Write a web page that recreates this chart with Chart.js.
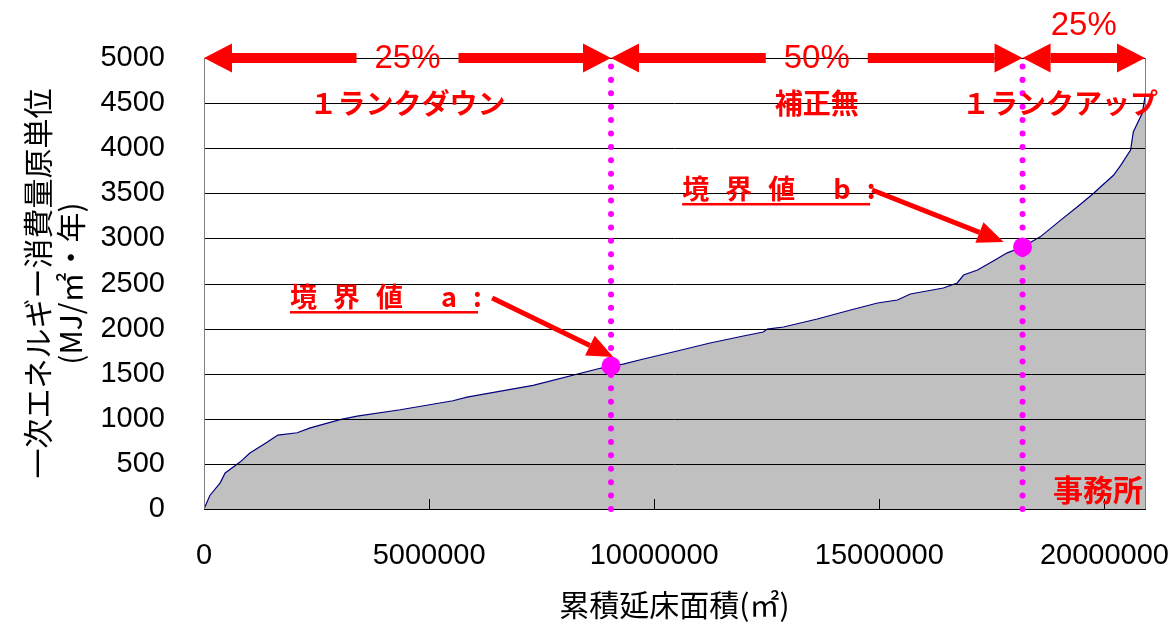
<!DOCTYPE html>
<html>
<head>
<meta charset="utf-8">
<script src="https://cdn.jsdelivr.net/npm/chart.js@4.4.1/dist/chart.umd.min.js"></script>
<style>
  html, body { margin: 0; padding: 0; background: #fff; }
</style>
</head>
<body>
<canvas id="energyChart" width="1169" height="622"></canvas>
<script>
// cumulative floor area (m2) vs primary energy intensity (MJ/m2/yr)
const floorArea = [
  0, 130000, 360000, 470000, 800000, 1020000, 1400000, 1640000, 2070000, 2360000,
  3020000, 3400000, 4360000, 5530000, 5840000, 7310000, 8800000, 9040000, 9310000, 9760000,
  10510000, 11240000, 11980000, 12420000, 12510000, 12870000, 13620000, 14360000, 14960000, 15400000,
  15690000, 16420000, 16730000, 16870000, 17180000, 17530000, 17840000, 18180000, 18580000, 19020000,
  19400000, 19760000, 19910000, 20200000, 20360000, 20580000, 20640000, 20840000, 20910000
];
const energyUnit = [
  0, 150, 290, 400, 520, 620, 740, 820, 845, 900,
  990, 1030, 1100, 1200, 1240, 1370, 1560, 1585, 1607, 1663,
  1752, 1840, 1918, 1962, 1995, 2018, 2106, 2206, 2284, 2317,
  2384, 2450, 2506, 2594, 2650, 2750, 2840, 2905, 3020, 3200,
  3350, 3500, 3570, 3700, 3810, 3980, 4180, 4390, 4600
];

const xTicks = [0, 5000000, 10000000, 15000000, 20000000];
const yTicks = [0, 500, 1000, 1500, 2000, 2500, 3000, 3500, 4000, 4500, 5000];

// boundary values a / b
const boundaryX = [9040000, 18180000];
const boundaryY = [1585, 2905];

const shareLabels = ['25%', '50%', '25%'];
const rankLabels = ['１ランクダウン', '補正無', '１ランクアップ'];
const boundaryLabels = ['境界値 a:', '境界値 b:'];
const buildingType = '事務所';

// annotation anchors in data units: label start, arrow start, arrow tip
const noteLabelAt = [[1910000, 2350], [10620000, 3548]];
const noteArrowFrom = [[6400000, 2340], [14840000, 3537]];
const noteArrowTo = [[9090000, 1685], [17760000, 2960]];

const X_MAX = 20900000;
const Y_MAX = 5000;

const RED = '#ff0000';
const MAGENTA = '#ff00ff';
const JP = "'Noto Sans CJK JP', sans-serif";
const NUM = "'Liberation Sans', Arial, sans-serif";

function line(ctx, x1, y1, x2, y2) {
  ctx.beginPath();
  ctx.moveTo(x1, y1);
  ctx.lineTo(x2, y2);
  ctx.stroke();
}

function tri(ctx, ax, ay, bx, by, cx, cy) {
  ctx.beginPath();
  ctx.moveTo(ax, ay);
  ctx.lineTo(bx, by);
  ctx.lineTo(cx, cy);
  ctx.closePath();
  ctx.fill();
}

function doubleArrow(ctx, x1, x2, y, gapMid) {
  const head = 28, half = 14.5, th = 10, gapHalf = 51;
  ctx.fillStyle = RED;
  if (gapMid != null) {
    ctx.fillRect(x1 + head, y - th / 2, gapMid - gapHalf - x1 - head, th);
    ctx.fillRect(gapMid + gapHalf, y - th / 2, x2 - head - gapMid - gapHalf, th);
  } else {
    ctx.fillRect(x1 + head, y - th / 2, x2 - x1 - 2 * head, th);
  }
  tri(ctx, x1, y, x1 + head, y - half, x1 + head, y + half);
  tri(ctx, x2, y, x2 - head, y - half, x2 - head, y + half);
}

function arrow(ctx, x1, y1, x2, y2) {
  const head = 26, half = 11;
  const ang = Math.atan2(y2 - y1, x2 - x1);
  const bx = x2 - head * Math.cos(ang), by = y2 - head * Math.sin(ang);
  ctx.strokeStyle = RED;
  ctx.fillStyle = RED;
  ctx.lineWidth = 5;
  line(ctx, x1, y1, bx, by);
  tri(ctx, x2, y2,
    bx + half * Math.sin(ang), by - half * Math.cos(ang),
    bx - half * Math.sin(ang), by + half * Math.cos(ang));
}

// spaced-out label with underline, like the original callouts
function spacedLabel(ctx, text, x, y) {
  ctx.font = `bold 27px ${JP}`;
  ctx.fillStyle = RED;
  ctx.textAlign = 'left';
  ctx.textBaseline = 'middle';
  let cx = x;
  for (const ch of text) {
    ctx.fillText(ch, cx, y);
    cx += ctx.measureText(ch).width + 16;
  }
  ctx.fillRect(x, y + 14, 188, 2.5);
}

const overlay = {
  id: 'overlay',
  afterDatasetDraw(chart, args) {
    if (args.index !== 3) return;
    const { ctx, chartArea: a, scales: { x, y } } = chart;
    ctx.save();
    ctx.strokeStyle = '#000';
    ctx.lineWidth = 1;
    y.ticks.forEach(t => {
      const py = Math.round(y.getPixelForValue(t.value)) + 0.5;
      line(ctx, a.left, py, a.right, py);
    });
    x.ticks.forEach(t => {
      if (t.value === 0) return;
      const px = Math.round(x.getPixelForValue(t.value)) + 0.5;
      line(ctx, px, a.bottom, px, a.bottom - 10);
    });
    ctx.strokeStyle = '#808080';
    line(ctx, Math.round(a.right) + 0.5, a.top, Math.round(a.right) + 0.5, a.bottom);
    line(ctx, Math.round(a.left) + 0.5, a.top, Math.round(a.left) + 0.5, a.bottom);
    ctx.restore();
  },
  afterDraw(chart) {
    const { ctx, chartArea: a, scales: { x, y } } = chart;
    ctx.save();
    const topY = y.getPixelForValue(Y_MAX);
    const xs = [0, boundaryX[0], boundaryX[1], X_MAX].map(v => x.getPixelForValue(v));

    // top share arrows
    for (let i = 0; i < 3; i++) {
      const mid = (xs[i] + xs[i + 1]) / 2;
      doubleArrow(ctx, xs[i], xs[i + 1], topY, i < 2 ? mid : null);
      ctx.font = `33px ${NUM}`;
      ctx.fillStyle = RED;
      ctx.textAlign = 'center';
      ctx.textBaseline = 'middle';
      ctx.fillText(shareLabels[i], mid, i < 2 ? topY + 1 : topY - 32);
    }

    // rank labels on the 4500 line
    const rankY = y.getPixelForValue(4500);
    ctx.font = `bold 28px ${JP}`;
    ctx.fillStyle = RED;
    ctx.textBaseline = 'middle';
    ctx.textAlign = 'center';
    ctx.fillText(rankLabels[0], (xs[0] + xs[1]) / 2, rankY);
    ctx.fillText(rankLabels[1], (xs[1] + xs[2]) / 2, rankY);
    ctx.textAlign = 'right';
    ctx.fillText(rankLabels[2], a.right + 13, rankY);

    // building type
    ctx.font = `bold 30px ${JP}`;
    ctx.fillText(buildingType, a.right - 2, y.getPixelForValue(210));

    // boundary callouts
    for (let i = 0; i < 2; i++) {
      spacedLabel(ctx, boundaryLabels[i],
        x.getPixelForValue(noteLabelAt[i][0]), y.getPixelForValue(noteLabelAt[i][1]));
      arrow(ctx,
        x.getPixelForValue(noteArrowFrom[i][0]), y.getPixelForValue(noteArrowFrom[i][1]),
        x.getPixelForValue(noteArrowTo[i][0]), y.getPixelForValue(noteArrowTo[i][1]));
    }
    ctx.restore();
  }
};

const dotted = bx => ({
  data: [{ x: bx, y: 0 }, { x: bx, y: Y_MAX }],
  borderColor: MAGENTA,
  borderWidth: 6,
  borderDash: [0.01, 13.4],
  borderCapStyle: 'round',
  pointRadius: 0,
  fill: false,
  clip: false,
  order: 2
});

new Chart(document.getElementById('energyChart'), {
  type: 'line',
  data: {
    datasets: [
      {
        type: 'scatter',
        data: boundaryX.map((bx, i) => ({ x: bx, y: boundaryY[i] })),
        pointRadius: 9.5,
        pointBackgroundColor: MAGENTA,
        pointBorderWidth: 0,
        clip: false,
        order: 1
      },
      dotted(boundaryX[0]),
      dotted(boundaryX[1]),
      {
        data: floorArea.map((fx, i) => ({ x: fx, y: energyUnit[i] })),
        fill: 'origin',
        backgroundColor: '#c0c0c0',
        borderColor: '#000080',
        borderWidth: 1.2,
        pointRadius: 0,
        tension: 0,
        order: 3
      }
    ]
  },
  options: {
    responsive: false,
    animation: false,
    layout: { padding: { top: 58, right: 24, left: 0, bottom: 0 } },
    plugins: { legend: { display: false }, tooltip: { enabled: false } },
    scales: {
      x: {
        type: 'linear',
        min: 0,
        max: X_MAX,
        afterBuildTicks: s => { s.ticks = xTicks.map(v => ({ value: v })); },
        afterFit: s => { s.height = 113; s.paddingLeft = 0; s.paddingRight = 0; },
        grid: { display: false, drawTicks: false },
        border: { color: '#000', width: 1 },
        ticks: {
          autoSkip: false,
          maxRotation: 0,
          padding: 30,
          color: '#000',
          font: { family: NUM, size: 29 },
          callback: v => String(v)
        },
        title: {
          display: true,
          text: '累積延床面積(㎡)',
          color: '#000',
          font: { family: JP, size: 30, lineHeight: 1 },
          padding: { top: 0, bottom: 2 }
        }
      },
      y: {
        min: 0,
        max: Y_MAX,
        afterBuildTicks: s => { s.ticks = yTicks.map(v => ({ value: v })); },
        afterFit: s => { s.width = 204; },
        grid: { display: false, drawTicks: false },
        border: { color: '#808080', width: 1 },
        ticks: {
          padding: 39,
          color: '#000',
          font: { family: NUM, size: 29 },
          callback: v => String(v)
        },
        title: {
          display: true,
          text: ['一次エネルギー消費量原単位', '(MJ/㎡・年)'],
          color: '#000',
          font: { family: JP, size: 30, lineHeight: 1.1 },
          padding: { top: 21, bottom: 0 }
        }
      }
    }
  },
  plugins: [overlay]
});
</script>
</body>
</html>
